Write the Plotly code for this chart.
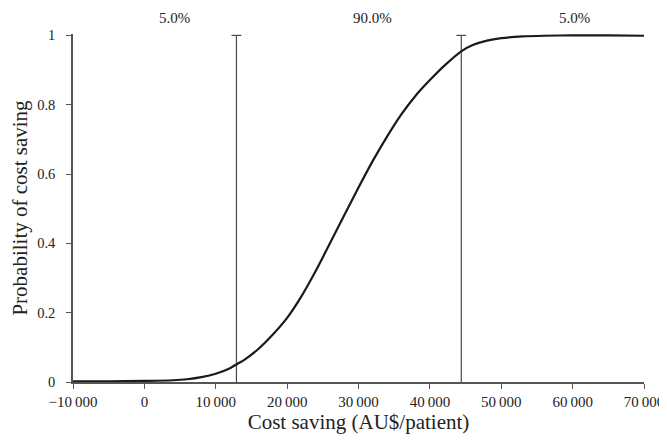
import plotly.graph_objects as go

# Cumulative probability of cost saving
cost_saving = [-10000, -5000, 0, 4000, 6000, 8000, 10000, 12000, 13000, 14000, 16000,
               18000, 20000, 22000, 24000, 26000, 28000, 30000, 32000, 34000, 36000,
               38000, 40000, 42000, 44400, 46000, 48000, 50000, 53000, 56000, 60000,
               65000, 70000]
probability = [0.002, 0.002, 0.003, 0.005, 0.008, 0.014, 0.024, 0.040, 0.052, 0.064, 0.096,
               0.137, 0.185, 0.247, 0.320, 0.400, 0.481, 0.561, 0.638, 0.708, 0.772,
               0.826, 0.871, 0.912, 0.954, 0.972, 0.985, 0.992, 0.997, 0.999, 1.0,
               1.0, 0.999]

# Percentile cut points
p5 = 12900
p95 = 44400

# Region labels
region_labels = ["5.0%", "90.0%", "5.0%"]
region_label_x = [4250, 31900, 60200]

x_ticks = [-10000, 0, 10000, 20000, 30000, 40000, 50000, 60000, 70000]
x_ticktext = ["\u221210\u2009000", "0", "10\u2009000", "20\u2009000", "30\u2009000",
              "40\u2009000", "50\u2009000", "60\u2009000", "70\u2009000"]
y_ticks = [0, 0.2, 0.4, 0.6, 0.8, 1]
y_ticktext = ["0", "0.2", "0.4", "0.6", "0.8", "1"]

FONT = "Liberation Serif, Times New Roman, serif"
TXT = "#222222"

fig = go.Figure()

for xv in [p5, p95]:
    fig.add_trace(go.Scatter(
        x=[xv, xv], y=[0, 1], mode="lines",
        line=dict(color="#4a4a4a", width=1.2), hoverinfo="skip", showlegend=False))
    fig.add_trace(go.Scatter(
        x=[xv], y=[1], mode="markers",
        marker=dict(symbol="line-ew", size=7, line=dict(color="#4a4a4a", width=1.2)),
        cliponaxis=False, hoverinfo="skip", showlegend=False))

fig.add_trace(go.Scatter(
    x=cost_saving, y=probability, mode="lines",
    line=dict(color="#1a1a1a", width=2.2, shape="spline", smoothing=0.6),
    showlegend=False))

for lx, lt in zip(region_label_x, region_labels):
    fig.add_annotation(x=lx, xref="x", y=1, yref="paper", yshift=26,
                       text=lt, showarrow=False,
                       font=dict(family=FONT, size=15, color=TXT))

# page body adds an 8px offset; size and margins compensate for it
fig.update_layout(
    width=659, height=432, autosize=False,
    margin=dict(l=65, r=23, t=26, b=58),
    plot_bgcolor="white", paper_bgcolor="white",
    font=dict(family=FONT, size=15, color=TXT),
)

fig.update_xaxes(
    range=[-10000, 70000], tickvals=x_ticks, ticktext=x_ticktext,
    showgrid=False, zeroline=False, showline=True, linecolor="#555", linewidth=1.5,
    ticks="outside", ticklen=5, tickcolor="#555", tickwidth=1.2, automargin=False,
    tickfont=dict(family=FONT, size=15, color=TXT),
    title=dict(text="Cost saving (AU$/patient)", font=dict(family=FONT, size=21, color=TXT),
               standoff=5),
)
fig.update_yaxes(
    range=[0, 1.004], tickvals=y_ticks, ticktext=y_ticktext,
    showgrid=False, zeroline=False, showline=True, linecolor="#555", linewidth=1.5,
    ticks="outside", ticklen=5, tickcolor="#555", tickwidth=1.2, automargin=False,
    ticklabelstandoff=8,
    tickfont=dict(family=FONT, size=14.5, color=TXT),
    title=dict(text="Probability of cost saving", font=dict(family=FONT, size=21, color=TXT),
               standoff=8),
)

fig.write_html("out.html")
